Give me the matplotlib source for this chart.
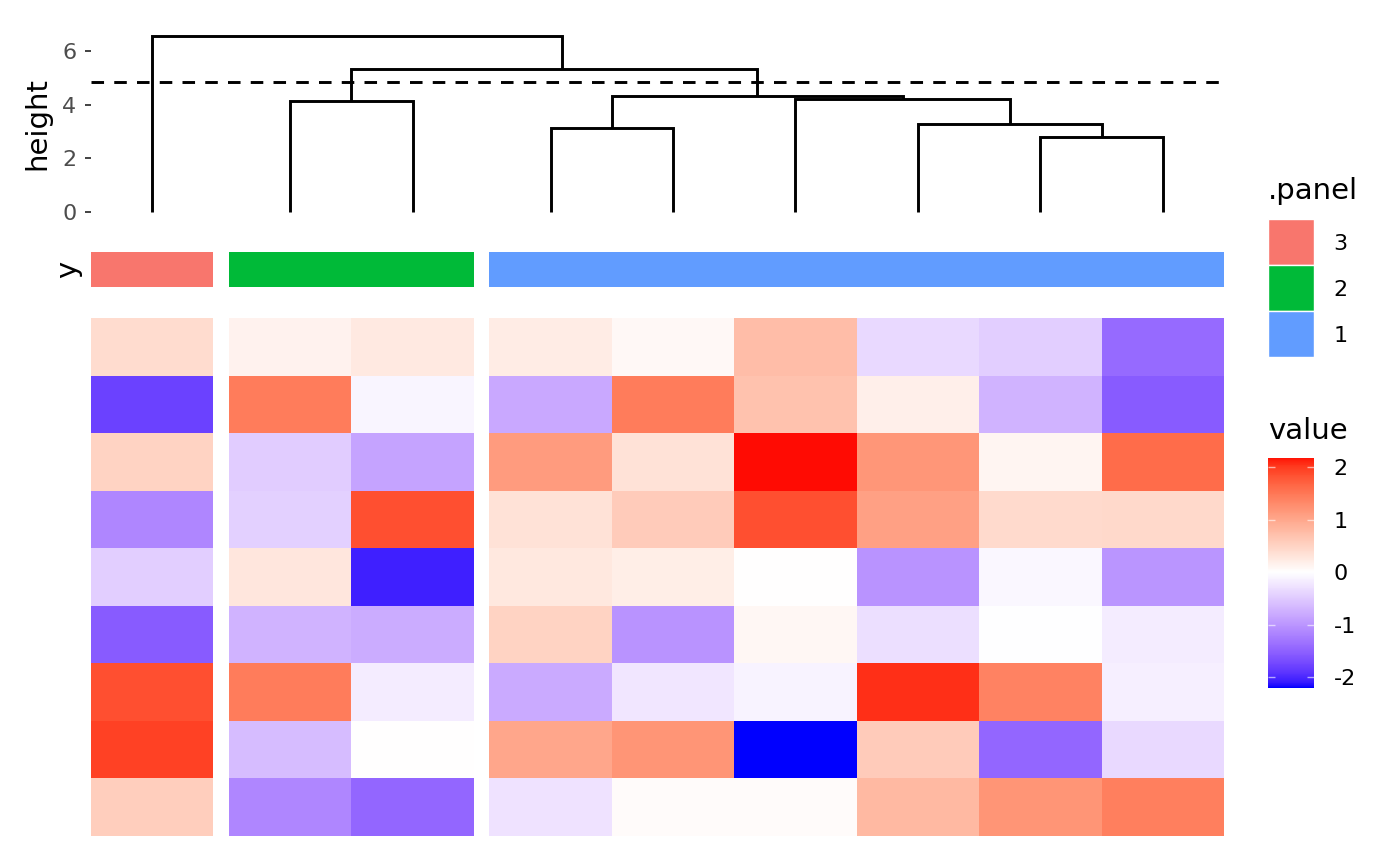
import numpy as np
import matplotlib
matplotlib.use("Agg")
import matplotlib.pyplot as plt
from matplotlib.colors import ListedColormap, Normalize

plt.rcParams["axes.unicode_minus"] = False

# heatmap values, rows top -> bottom, columns in dendrogram order
values = np.array([
    [ 0.40,  0.15,  0.25,  0.22,  0.07,  0.75, -0.35, -0.45, -1.42],
    [-1.80,  1.45, -0.10, -0.82,  1.45,  0.70,  0.18, -0.72, -1.55],
    [ 0.50, -0.48, -0.86,  1.12,  0.33,  2.17,  1.18,  0.12,  1.60],
    [-1.15, -0.43,  1.85,  0.33,  0.60,  1.85,  1.08,  0.42,  0.43],
    [-0.45,  0.28, -2.05,  0.27,  0.20,  0.00, -1.02, -0.08, -1.00],
    [-1.55, -0.72, -0.78,  0.50, -1.02,  0.10, -0.30, -0.01, -0.18],
    [ 1.85,  1.45, -0.18, -0.80, -0.23, -0.12,  2.05,  1.38, -0.15],
    [ 1.95, -0.63,  0.01,  1.00,  1.20, -2.20,  0.60, -1.45, -0.35],
    [ 0.55, -1.15, -1.45, -0.27,  0.04,  0.05,  0.80,  1.20,  1.42],
])

# panels (left -> right) and their sizes
panel_names = ["3", "2", "1"]
panel_sizes = [1, 2, 6]
panel_colors = ["#F8766D", "#00BA38", "#619CFF"]

# dendrogram merges: (child a, child b, height); leaves 0..8, new nodes from 9
merges = [
    (7, 8, 2.78),
    (3, 4, 3.12),
    (6, 9, 3.27),
    (1, 2, 4.15),
    (5, 11, 4.20),
    (10, 13, 4.32),
    (12, 14, 5.33),
    (0, 15, 6.55),
]
cut_height = 4.86


# --- colour scale: blue - white - red, interpolated in CIELAB like ggplot ---
def srgb_to_lab(c):
    c = np.asarray(c, float)
    lin = np.where(c <= 0.04045, c / 12.92, ((c + 0.055) / 1.055) ** 2.4)
    M = np.array([[0.4124, 0.3576, 0.1805],
                  [0.2126, 0.7152, 0.0722],
                  [0.0193, 0.1192, 0.9505]])
    xyz = M @ lin / np.array([0.95047, 1.0, 1.08883])
    f = np.where(xyz > 0.008856, np.cbrt(xyz), 7.787 * xyz + 16 / 116)
    return np.array([116 * f[1] - 16, 500 * (f[0] - f[1]), 200 * (f[1] - f[2])])


def lab_to_srgb(lab):
    L, a, b = lab
    fy = (L + 16) / 116
    fx = fy + a / 500
    fz = fy - b / 200
    f = np.array([fx, fy, fz])
    xyz = np.where(f ** 3 > 0.008856, f ** 3, (f - 16 / 116) / 7.787)
    xyz = xyz * np.array([0.95047, 1.0, 1.08883])
    Minv = np.array([[3.2406, -1.5372, -0.4986],
                     [-0.9689, 1.8758, 0.0415],
                     [0.0557, -0.2040, 1.0570]])
    lin = np.clip(Minv @ xyz, 0, 1)
    c = np.where(lin <= 0.0031308, 12.92 * lin, 1.055 * lin ** (1 / 2.4) - 0.055)
    return np.clip(c, 0, 1)


lab_lo = srgb_to_lab([0, 0, 1])
lab_mid = srgb_to_lab([1, 1, 1])
lab_hi = srgb_to_lab([1, 0, 0])
cols = []
for t in np.linspace(0, 1, 256):
    if t < 0.5:
        s = t / 0.5
        cols.append(lab_to_srgb(lab_lo * (1 - s) + lab_mid * s))
    else:
        s = (t - 0.5) / 0.5
        cols.append(lab_to_srgb(lab_mid * (1 - s) + lab_hi * s))
cmap = ListedColormap(cols)
vmax = np.abs(values).max()
norm = Normalize(-vmax, vmax)

# --- layout ---
W, H = 1400, 866
fig = plt.figure(figsize=(14, 8.66), dpi=100)


def px_axes(x0, y0, x1, y1):
    return fig.add_axes([x0 / W, 1 - y1 / H, (x1 - x0) / W, (y1 - y0) / H])


gap = 0.127
offsets = []
pos = 0.0
for size in panel_sizes:
    offsets.append(pos)
    pos += size + gap
total_w = pos - gap

# column centers in data coordinates
centers = []
for off, size in zip(offsets, panel_sizes):
    centers.extend(off + np.arange(size) + 0.5)
centers = np.array(centers)

# heatmap
ax = px_axes(91, 318, 1224, 836)
start = 0
for off, size in zip(offsets, panel_sizes):
    xe = off + np.arange(size + 1)
    ye = np.arange(values.shape[0] + 1)
    mesh = ax.pcolormesh(xe, ye, values[:, start:start + size], cmap=cmap, norm=norm)
    start += size
ax.set_xlim(0, total_w)
ax.set_ylim(values.shape[0], 0)
ax.axis("off")

# annotation bar
ax_ann = px_axes(91, 252, 1224, 287)
for off, size, c in zip(offsets, panel_sizes, panel_colors):
    ax_ann.bar(off, 1, width=size, align="edge", color=c)
ax_ann.set_xlim(0, total_w)
ax_ann.set_ylim(0, 1)
ax_ann.set_xticks([])
ax_ann.set_yticks([])
for s in ax_ann.spines.values():
    s.set_visible(False)
ax_ann.set_ylabel("y", fontsize=21, labelpad=6)

# dendrogram: node positions in leaf-index units, mapped onto the panel layout
ax_d = px_axes(91, 27, 1224, 221)
n_leaf = len(centers)
node_u = {i: float(i) for i in range(n_leaf)}
node_h = {i: 0.0 for i in range(n_leaf)}
leaf_idx = np.arange(n_leaf)
for k, (a, b, h) in enumerate(merges):
    xa = np.interp(node_u[a], leaf_idx, centers)
    xb = np.interp(node_u[b], leaf_idx, centers)
    ax_d.plot([xa, xa, xb, xb], [node_h[a], h, h, node_h[b]], color="black", lw=2.1,
              solid_joinstyle="miter", solid_capstyle="butt")
    nid = n_leaf + k
    node_u[nid] = (node_u[a] + node_u[b]) / 2
    node_h[nid] = h
ax_d.axhline(cut_height, color="black", lw=2.1, linestyle=(0, (4.3, 3.5)))
ax_d.set_xlim(0, total_w)
ax_d.set_ylim(-0.335, 6.895)
ax_d.set_xticks([])
ax_d.set_yticks([0, 2, 4, 6])
ax_d.tick_params(axis="y", labelsize=16, labelcolor="#4D4D4D", color="#333333",
                 length=4.5, width=1.3, pad=6)
for s in ax_d.spines.values():
    s.set_visible(False)
ax_d.set_ylabel("height", fontsize=21, labelpad=8)

# .panel legend
ax_l = px_axes(1268, 219, 1314, 357)
for i, c in enumerate(panel_colors):
    ax_l.bar(0, 1, width=1, bottom=i, align="edge", color=c, edgecolor="white", lw=1)
ax_l.set_xlim(0, 1)
ax_l.set_ylim(3, 0)
ax_l.set_xticks([])
ax_l.set_yticks(np.arange(3) + 0.5)
ax_l.set_yticklabels(panel_names)
ax_l.yaxis.tick_right()
ax_l.tick_params(axis="y", length=0, labelsize=16, pad=14)
for s in ax_l.spines.values():
    s.set_visible(False)
fig.text(1268 / W, 1 - 191 / H, ".panel", fontsize=21, va="center", ha="left")

# colourbar legend
cax = px_axes(1268, 458, 1314, 688)
cb = fig.colorbar(mesh, cax=cax)
cb.outline.set_visible(False)
cax.set_ylim(values.min(), values.max())
cb.set_ticks([-2, -1, 0, 1, 2])
cax.tick_params(axis="y", left=True, right=True, direction="in", length=5, width=1,
                color=(1, 1, 1, 0.6), labelsize=16, pad=14)
fig.text(1268 / W, 1 - 431 / H, "value", fontsize=21, va="center", ha="left")

fig.savefig("out.png", dpi=100)
